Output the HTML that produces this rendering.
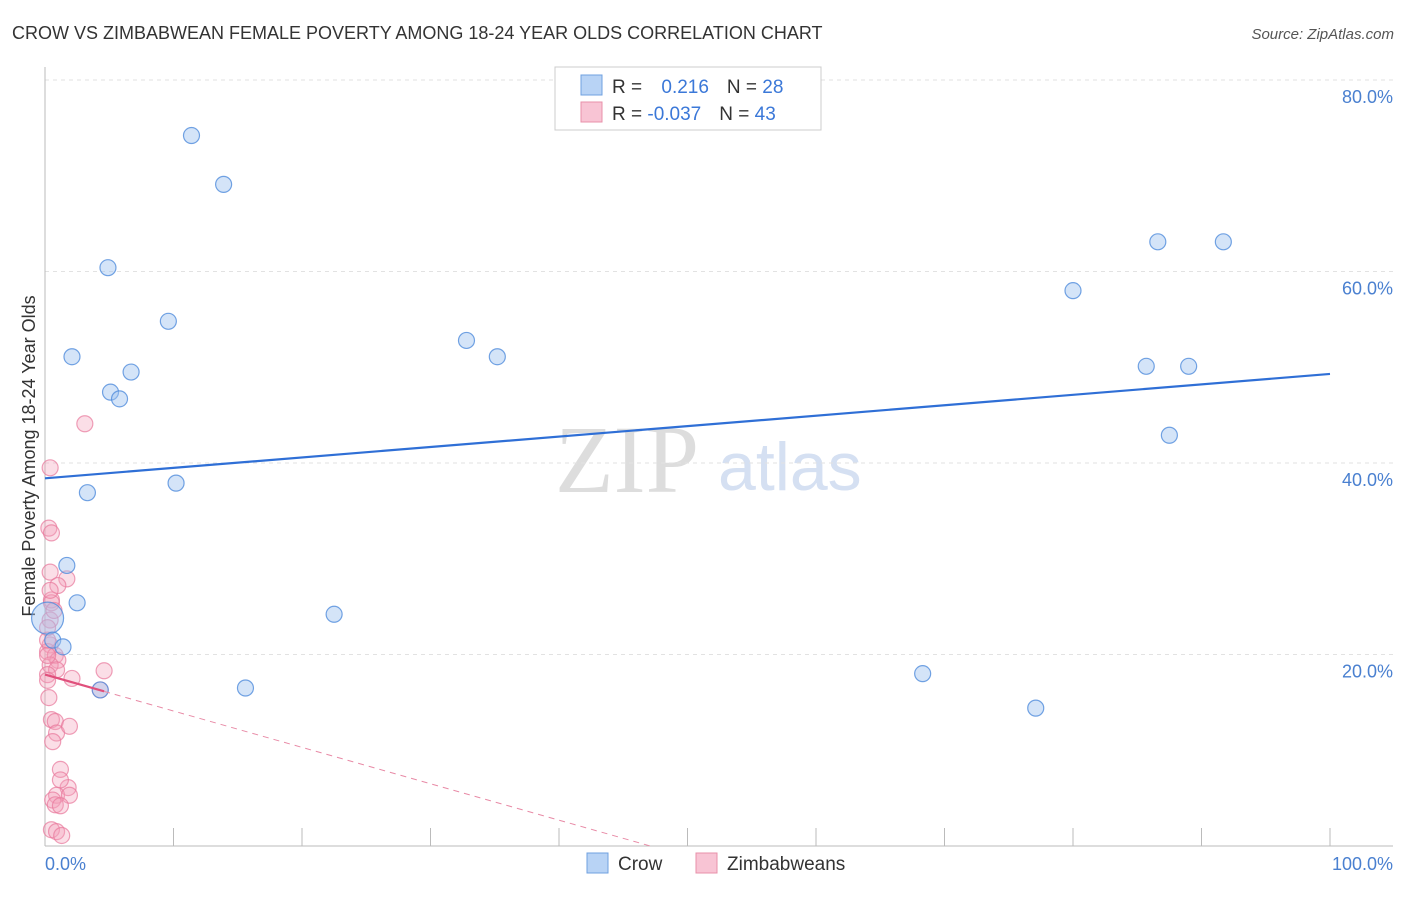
<!DOCTYPE html>
<html><head><meta charset="utf-8"><style>
body{margin:0;background:#fff;font-family:"Liberation Sans",sans-serif}
</style></head><body>
<svg id="c" width="1406" height="892" xmlns="http://www.w3.org/2000/svg">
<text x="12" y="39" font-size="18" fill="#333">CROW VS ZIMBABWEAN FEMALE POVERTY AMONG 18-24 YEAR OLDS CORRELATION CHART</text>
<text x="1394" y="39" font-size="15" fill="#555" font-style="italic" text-anchor="end">Source: ZipAtlas.com</text>
<text x="35" y="456" font-size="18" fill="#333" text-anchor="middle" transform="rotate(-90 35 456)">Female Poverty Among 18-24 Year Olds</text>
<text x="555" y="492" font-size="96" fill="#ddd" font-family="Liberation Serif,serif">ZIP</text>
<text x="718" y="490" font-size="68" fill="#d5e0f2">atlas</text>
<g id="grid"></g><g id="pts"></g><g id="lines"></g>
<text x="45" y="870" font-size="18" fill="#4a80d0">0.0%</text>
<text x="1393" y="870" font-size="18" fill="#4a80d0" text-anchor="end">100.0%</text>
<g>
<rect x="555" y="67" width="266" height="63" fill="#fff" stroke="#ccc"/>
<rect x="581" y="75" width="21" height="20" fill="#b8d3f5" stroke="#6fa0e0"/>
<rect x="581" y="102" width="21" height="20" fill="#f8c4d4" stroke="#e890aa"/>
<text x="612" y="93" font-size="19" fill="#333">R = <tspan fill="#3b78d8" dx="14">0.216</tspan><tspan dx="18" fill="#333">N = </tspan><tspan fill="#3b78d8">28</tspan></text>
<text x="612" y="120" font-size="19" fill="#333">R = <tspan fill="#3b78d8">-0.037</tspan><tspan dx="18" fill="#333">N = </tspan><tspan fill="#3b78d8">43</tspan></text>
</g>
<g>
<rect x="587" y="853" width="21" height="20" fill="#b8d3f5" stroke="#6fa0e0"/>
<text x="618" y="870" font-size="19" fill="#333">Crow</text>
<rect x="696" y="853" width="21" height="20" fill="#f8c4d4" stroke="#e890aa"/>
<text x="727" y="870" font-size="19" fill="#333">Zimbabweans</text>
</g>
</svg>
<script>
const yTicks=[20,40,60,80];
const yTickLabels=["20.0%","40.0%","60.0%","80.0%"];
const crowX=[11.4,13.9,4.9,9.6,2.1,6.7,5.1,5.8,3.3,10.2,1.7,2.5,0.2,0.6,1.4,4.3,15.6,22.5,32.8,35.2,68.3,77.1,80.0,85.7,89.0,87.5,86.6,91.7];
const crowY=[74.2,69.1,60.4,54.8,51.1,49.5,47.4,46.7,36.9,37.9,29.3,25.4,23.8,21.5,20.8,16.3,16.5,24.2,52.8,51.1,18.0,14.4,58.0,50.1,50.1,42.9,63.1,63.1];
const zimX=[3.1,0.4,0.3,0.5,0.4,1.7,1.0,0.5,0.5,0.4,0.2,0.4,0.2,0.8,1.0,0.4,0.9,4.6,2.1,0.3,0.5,0.8,0.9,1.9,1.2,1.8,0.9,1.9,0.6,0.8,1.2,0.5,0.9,1.3,0.2,0.2,0.2,0.4,0.7,0.2,0.6,4.3,1.2];
const zimY=[44.1,39.5,33.2,32.7,28.6,27.9,27.2,25.7,25.4,23.6,22.8,21.0,20.3,19.9,19.4,18.9,18.4,18.3,17.5,15.5,13.2,13.0,11.8,12.5,8.0,6.1,5.3,5.3,4.8,4.3,4.2,1.7,1.5,1.1,19.9,21.5,17.9,26.7,24.6,17.3,10.9,16.3,6.9];
const crowTrend=[38.4,49.3];
const zimTrend=[17.9,-0.38];
const X=v=>45+v*12.85, Y=v=>846-v*9.575;
const NS="http://www.w3.org/2000/svg";
function mk(t,a,p){const e=document.createElementNS(NS,t);for(const k in a)e.setAttribute(k,a[k]);p.appendChild(e);return e;}
const g=document.getElementById('grid');
yTicks.forEach((t,i)=>{
 const l=mk('line',{x1:45,x2:1393,y1:Y(t),y2:Y(t),stroke:'#e2e2e2','stroke-dasharray':'4,4'},g);
 
 
 const tx=mk('text',{x:1393,y:Y(t)+23,'font-size':18,fill:'#4a80d0','text-anchor':'end'},g);
 tx.textContent=yTickLabels[i];
 
 
});
const ax=mk('line',{x1:45,x2:45,y1:67,y2:846,stroke:'#bbb'},g);


const bx=mk('line',{x1:45,x2:1393,y1:846,y2:846,stroke:'#bbb'},g);


for(let i=0;i<=10;i++){const t=mk('line',{x1:X(i*10),x2:X(i*10),y1:828,y2:846,stroke:'#bbb'},g);
 
 }
const p=document.getElementById('pts');
zimX.forEach((x,i)=>{const c=mk('circle',{cx:X(x),cy:Y(zimY[i]),r:8,fill:'rgba(244,160,186,0.35)',stroke:'rgba(232,120,155,0.7)','stroke-width':1.2},p);
 
 });
crowX.forEach((x,i)=>{const c=mk('circle',{cx:X(x),cy:Y(crowY[i]),r:i==12?16:8,fill:'rgba(160,195,240,0.45)',stroke:'rgba(80,140,220,0.8)','stroke-width':1.2},p);
 
 });
const L=document.getElementById('lines');
const bl=mk('line',{x1:X(0),y1:Y(crowTrend[0]),x2:X(100),y2:Y(crowTrend[1]),stroke:'#2f6fd6','stroke-width':2.2},L);


const zEnd=-zimTrend[0]/zimTrend[1];
const pl=mk('line',{x1:X(0),y1:Y(zimTrend[0]),x2:X(4.6),y2:Y(zimTrend[0]+zimTrend[1]*4.6),stroke:'#e0507c','stroke-width':2.2},L);


const pd=mk('line',{x1:X(4.6),y1:Y(zimTrend[0]+zimTrend[1]*4.6),x2:X(zEnd),y2:Y(0),stroke:'#e88aa6','stroke-width':1,'stroke-dasharray':'6,5'},L);


</script>
</body></html>
